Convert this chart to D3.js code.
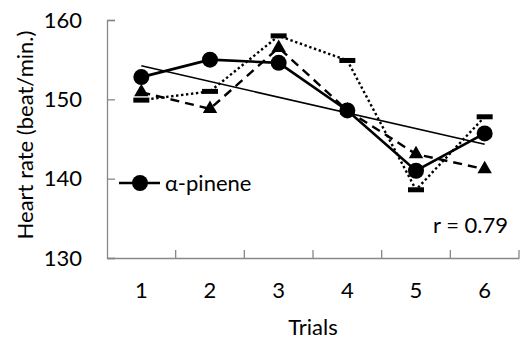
<!DOCTYPE html>
<html>
<head>
<meta charset="utf-8">
<script src="https://cdn.jsdelivr.net/npm/d3@7"></script>
<style>
  body { margin: 0; background: #fff; }
  svg { display: block; font-family: Lato, "Open Sans", sans-serif; }
</style>
</head>
<body>
<div id="chart"></div>
<script>
// data
const trials = ["1", "2", "3", "4", "5", "6"];
const pinene = [152.8, 155.0, 154.6, 148.6, 141.0, 145.7];   // circles, solid line
const seriesB = [150.9, 148.8, 156.5, 148.6, 143.1, 141.2];  // triangles, dashed
const seriesC = [149.9, 151.0, 158.0, 154.9, 138.6, 147.8];  // bars, dotted
const yTicks = [130, 140, 150, 160];
const rText = "r = 0.79";

const width = 520, height = 339;
const marginTop = 20, marginRight = 1, marginBottom = 81, marginLeft = 107;
const fontSize = "22px";

const svg = d3.select("#chart").append("svg")
    .attr("width", width)
    .attr("height", height)
    .attr("viewBox", [0, 0, width, height]);

const x = d3.scaleBand()
    .domain(trials)
    .range([marginLeft, width - marginRight]);

const y = d3.scaleLinear()
    .domain([130, 160])
    .range([height - marginBottom, marginTop]);

const cx = (d, i) => x(trials[i]) + x.bandwidth() / 2;

// y axis, ticks pointing inward
const yAxis = svg.append("g")
    .attr("transform", `translate(${marginLeft},0)`)
    .call(d3.axisRight(y).tickValues(yTicks).tickSize(8).tickFormat(""));
yAxis.select(".domain").attr("stroke", "#888").attr("stroke-width", 1.3);
yAxis.selectAll(".tick line").attr("stroke", "#888").attr("stroke-width", 1.3);

svg.append("g").selectAll("text")
    .data(yTicks)
    .join("text")
    .attr("x", marginLeft - 25)
    .attr("y", d => y(d))
    .attr("dy", "0.35em")
    .attr("text-anchor", "end")
    .attr("font-size", fontSize)
    .text(d => d);

// x axis: ticks between categories, inward
const xAxis = svg.append("g")
    .attr("transform", `translate(0,${height - marginBottom})`)
    .call(d3.axisBottom(x).tickSize(0).tickFormat(""));
xAxis.select(".domain").attr("stroke", "#888").attr("stroke-width", 1.3);
xAxis.selectAll(".tick").remove();
xAxis.selectAll("line.sep")
    .data(trials)
    .join("line")
    .attr("class", "sep")
    .attr("x1", d => x(d) + x.bandwidth()).attr("x2", d => x(d) + x.bandwidth())
    .attr("y1", 0).attr("y2", -8)
    .attr("stroke", "#888").attr("stroke-width", 1.3);

svg.append("g").selectAll("text")
    .data(trials)
    .join("text")
    .attr("x", d => x(d) + x.bandwidth() / 2)
    .attr("y", 298)
    .attr("text-anchor", "middle")
    .attr("font-size", fontSize)
    .text(d => d);

// axis titles
svg.append("text")
    .attr("transform", `translate(33,135) rotate(-90)`)
    .attr("text-anchor", "middle")
    .attr("font-size", fontSize)
    .text("Heart rate (beat/min.)");

svg.append("text")
    .attr("x", x("3") + x.bandwidth())
    .attr("y", 335)
    .attr("text-anchor", "middle")
    .attr("font-size", fontSize)
    .text("Trials");

// trend line: linear fit of the mean of the three series
const mean = pinene.map((v, i) => (v + seriesB[i] + seriesC[i]) / 3);
const xs = mean.map((d, i) => i + 1);
const mx = d3.mean(xs), my = d3.mean(mean);
const slope = d3.sum(xs, (v, i) => (v - mx) * (mean[i] - my)) / d3.sum(xs, v => (v - mx) ** 2);
const fit = k => my + slope * (k - mx);
svg.append("line")
    .attr("x1", cx(null, 0)).attr("y1", y(fit(1)))
    .attr("x2", cx(null, 5)).attr("y2", y(fit(6)))
    .attr("stroke", "#000").attr("stroke-width", 1.6);

const line = d3.line().x((d, i) => cx(d, i)).y(d => y(d));

// dotted series with bar markers
svg.append("path").datum(seriesC)
    .attr("d", line).attr("fill", "none")
    .attr("stroke", "#000").attr("stroke-width", 2.4)
    .attr("stroke-dasharray", "2.4,2.6");
svg.append("g").selectAll("rect")
    .data(seriesC)
    .join("rect")
    .attr("x", (d, i) => cx(d, i) - 8)
    .attr("y", d => y(d) - 2.5)
    .attr("width", 16).attr("height", 5)
    .attr("fill", "#000");

// dashed series with triangles
svg.append("path").datum(seriesB)
    .attr("d", line).attr("fill", "none")
    .attr("stroke", "#000").attr("stroke-width", 2.4)
    .attr("stroke-dasharray", "9,6");
svg.append("g").selectAll("path")
    .data(seriesB)
    .join("path")
    .attr("transform", (d, i) => `translate(${cx(d, i)},${y(d)})`)
    .attr("d", d3.symbol(d3.symbolTriangle, 90))
    .attr("fill", "#000");

// solid series with circles
svg.append("path").datum(pinene)
    .attr("d", line).attr("fill", "none")
    .attr("stroke", "#000").attr("stroke-width", 2.6);
svg.append("g").selectAll("circle")
    .data(pinene)
    .join("circle")
    .attr("cx", (d, i) => cx(d, i))
    .attr("cy", d => y(d))
    .attr("r", 8)
    .attr("fill", "#000");

// legend
const lg = svg.append("g").attr("transform", "translate(119,183)");
lg.append("line").attr("x1", 0).attr("x2", 41).attr("stroke", "#000").attr("stroke-width", 2.6);
lg.append("circle").attr("cx", 21).attr("r", 8).attr("fill", "#000");
lg.append("text").attr("x", 46).attr("dy", "0.35em").attr("font-size", fontSize).text("α-pinene");

svg.append("text")
    .attr("x", 508)
    .attr("y", 233)
    .attr("text-anchor", "end")
    .attr("font-size", fontSize)
    .text(rText);
</script>
</body>
</html>
